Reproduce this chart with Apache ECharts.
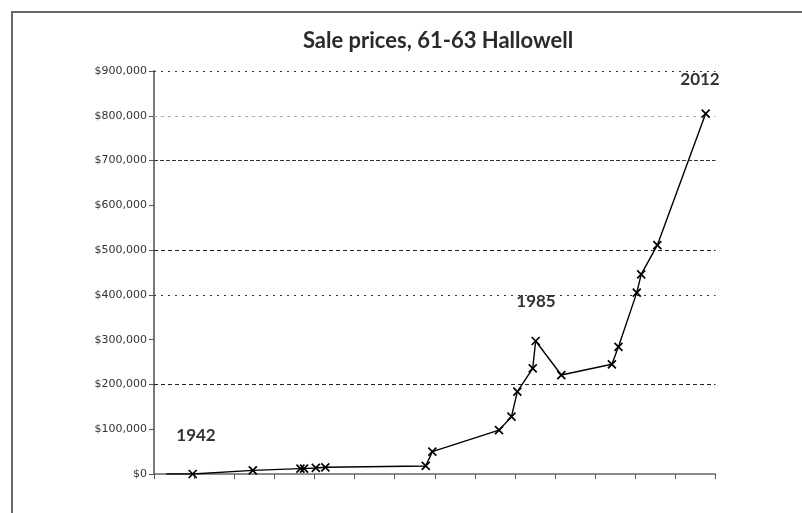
<!DOCTYPE html>
<html>
<head>
<meta charset="utf-8">
<script src="https://cdn.jsdelivr.net/npm/echarts@6/dist/echarts.min.js"></script>
<style>
  html, body { margin: 0; padding: 0; background: #fff; }
  #chart { width: 802px; height: 513px; }
</style>
</head>
<body>
<div id="chart"></div>
<script>
// Sale dates (decimal years) and prices for 61-63 Hallowell
const saleYears = [1938.4, 1942.0, 1950.2, 1956.7, 1957.2, 1958.8, 1960.1, 1973.8, 1974.7, 1983.8,
                   1985.5, 1986.3, 1988.4, 1988.8, 1992.3, 1999.2, 2000.1, 2002.6, 2003.2, 2005.4, 2012.0];
const salePrices = [0, 0, 8000, 12000, 12000, 13500, 15000, 18000, 50000, 98000,
                    128000, 184000, 236000, 297000, 221000, 245000, 284000, 405000, 446000, 511000, 805000];

// Price axis
const priceMin = 0;
const priceMax = 900000;
const priceStep = 100000;

// Horizontal reference lines that are drawn
const gridLevels = [200000, 400000, 500000, 700000, 800000, 900000];

// Year annotations
const yearNotes = ['1942', '1985', '2012'];

const gridStyles = {
  200000: { color: '#222', type: [4, 3] },
  400000: { color: '#333', type: [2, 5] },
  500000: { color: '#222', type: [4, 3] },
  700000: { color: '#333', type: [4, 2] },
  800000: { color: '#aaa', type: [3, 4] },
  900000: { color: '#333', type: [2, 5] }
};

const firstMarkerless = 0; // lead-in segment point drawn without a marker

const seriesData = saleYears.map((y, i) => {
  const item = { value: [y, salePrices[i]] };
  if (i === firstMarkerless) item.symbol = 'none';
  return item;
});

function money(v) {
  return '$' + String(v).replace(/\B(?=(\d{3})+(?!\d))/g, ',');
}

const chart = echarts.init(document.getElementById('chart'), null, { renderer: 'canvas' });

const noteFont = 'bold 17px Lato';

chart.setOption({
  animation: false,
  backgroundColor: '#fff',
  grid: { left: 154, right: 86.5, top: 71, bottom: 39, containLabel: false },
  xAxis: [
    {
      // tick-only axis along the bottom
      type: 'value', min: 0, max: 14, interval: 1,
      axisLine: { show: true, lineStyle: { color: '#666', width: 1.5 } },
      axisTick: { show: true, length: 5, lineStyle: { color: '#555', width: 1 } },
      axisLabel: { show: false },
      splitLine: { show: false }
    },
    {
      // time scale for the sales
      type: 'value', min: 1936.72, max: 2013.34, show: false,
      splitLine: { show: false }
    }
  ],
  yAxis: {
    type: 'value', min: priceMin, max: priceMax, interval: priceStep,
    axisLine: { show: true, lineStyle: { color: '#7a7a7a', width: 2 } },
    axisTick: { show: true, length: 5, lineStyle: { color: '#555', width: 1 } },
    axisLabel: {
      margin: 7, color: '#333', fontFamily: 'DejaVu Sans', fontSize: 11,
      formatter: money
    },
    splitLine: { show: false }
  },
  graphic: [
    {
      type: 'rect', silent: true, z: -1,
      shape: { x: 12, y: 12, width: 820, height: 540 },
      style: { fill: 'none', stroke: '#666', lineWidth: 2 }
    },
    {
      type: 'text', x: 438, y: 41,
      style: {
        text: 'Sale prices, 61-63 Hallowell', fill: '#2a2a2a',
        font: 'bold 22px Lato', textAlign: 'center', textVerticalAlign: 'middle'
      }
    },
    {
      type: 'text', x: 196, y: 436,
      style: { text: yearNotes[0], fill: '#333', font: noteFont, textAlign: 'center', textVerticalAlign: 'middle' }
    },
    {
      type: 'text', x: 536, y: 302,
      style: { text: yearNotes[1], fill: '#333', font: noteFont, textAlign: 'center', textVerticalAlign: 'middle' }
    },
    {
      type: 'text', x: 700, y: 80,
      style: { text: yearNotes[2], fill: '#333', font: noteFont, textAlign: 'center', textVerticalAlign: 'middle' }
    }
  ],
  series: [
    {
      type: 'line',
      xAxisIndex: 1,
      data: seriesData,
      symbol: 'path://M0,0L10,10M10,0L0,10',
      symbolSize: 8,
      showAllSymbol: true,
      lineStyle: { color: '#000', width: 1.4 },
      itemStyle: { color: '#000', borderColor: '#000', borderWidth: 1.7 },
      z: 5,
      markLine: {
        silent: true,
        symbol: 'none',
        label: { show: false },
        data: gridLevels.map(v => ({
          yAxis: v,
          lineStyle: { color: gridStyles[v].color, type: gridStyles[v].type, width: 1 }
        }))
      }
    }
  ]
});
</script>
</body>
</html>
